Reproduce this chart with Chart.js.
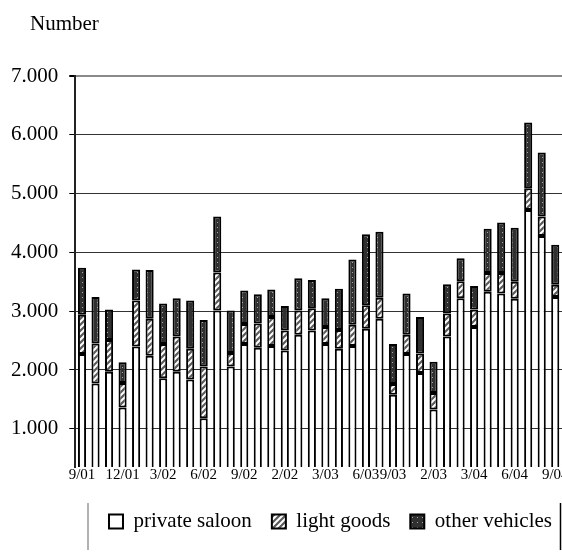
<!DOCTYPE html>
<html lang="en">
<head>
    <meta charset="UTF-8">
    <title>Vehicles by month</title>
    <script src="https://cdn.jsdelivr.net/npm/chart.js"></script>
    <style>
        body {
            margin: 0;
            background-color: #fff;
        }
    </style>
</head>
<body>
    <canvas id="vehChart" width="562" height="553"></canvas>

    <script>
        // one bar per month, 9/01 .. 8/04
        const months = [
            '9/01', '10/01', '11/01', '12/01',
            '1/02', '2/02', '3/02', '4/02', '5/02', '6/02', '7/02', '8/02', '9/02', '10/02', '11/02', '12/02',
            '1/03', '2/03', '3/03', '4/03', '5/03', '6/03', '7/03', '8/03', '9/03', '10/03', '11/03', '12/03',
            '1/04', '2/04', '3/04', '4/04', '5/04', '6/04', '7/04', '8/04'
        ];
        // labels as printed under the axis (only some months shown)
        const tickLabels = [
            '9/01', '', '', '12/01', '', '', '3/02', '', '', '6/02', '', '', '9/02', '', '', '2/02',
            '', '', '3/03', '', '', '6/03', '', '9/03', '', '', '2/03', '', '', '3/04', '', '',
            '6/04', '', '', '9/04'
        ];
        const privateSaloon = [
            2270, 1770, 1970, 1360, 2400, 2240, 1860, 1970, 1840, 1180, 3010, 2060,
            2440, 2380, 2410, 2330, 2600, 2670, 2440, 2360, 2410, 2700, 2870, 1580,
            2270, 1950, 1330, 2570, 3220, 2730, 3330, 3300, 3210, 4720, 4280, 3240
        ];
        const lightGoods = [
            670, 680, 540, 420, 780, 630, 580, 600, 520, 880, 650, 230,
            340, 410, 490, 340, 410, 380, 290, 320, 360, 400, 360, 180,
            330, 330, 280, 390, 290, 300, 320, 350, 290, 370, 330, 210
        ];
        const otherVehicles = [
            800, 790, 520, 350, 530, 830, 690, 650, 820, 790, 950, 720,
            570, 500, 470, 420, 550, 480, 490, 700, 1110, 1210, 1120, 680,
            700, 620, 530, 500, 390, 400, 750, 860, 920, 1120, 1090, 680
        ];
        const yTicks = [1000, 2000, 3000, 4000, 5000, 6000, 7000];

        Chart.defaults.font.family = "'Liberation Serif', 'Times New Roman', serif";
        Chart.defaults.color = '#000';

        function makePattern(size, draw) {
            const c = document.createElement('canvas');
            c.width = size;
            c.height = size;
            const g = c.getContext('2d');
            draw(g, size);
            return g.createPattern(c, 'repeat');
        }

        const hatch = makePattern(6, (g, s) => {
            g.fillStyle = '#5a5a5a';
            g.fillRect(0, 0, s, s);
            g.strokeStyle = '#fff';
            g.lineWidth = 2;
            g.beginPath();
            g.moveTo(-1, s + 1); g.lineTo(s + 1, -1);
            g.moveTo(-1, 1); g.lineTo(1, -1);
            g.moveTo(s - 1, s + 1); g.lineTo(s + 1, s - 1);
            g.stroke();
        });

        const dots = makePattern(5, (g, s) => {
            g.fillStyle = '#303030';
            g.fillRect(0, 0, s, s);
            g.fillStyle = '#a8a8a8';
            g.fillRect(2, 2, 1, 1);
        });

        const fmt = v => String(v).replace(/\B(?=(\d{3})+(?!\d))/g, '.');

        // "Number" caption, legend nudge and the legend frame lines
        const extras = {
            id: 'extras',
            afterLayout(chart) {
                chart.legend.left += 10;
                chart.legend.right += 10;
            },
            afterDraw(chart) {
                const ctx = chart.ctx;
                ctx.save();
                ctx.fillStyle = '#000';
                ctx.font = "21px 'Liberation Serif', 'Times New Roman', serif";
                ctx.textBaseline = 'alphabetic';
                ctx.fillText('Number', 30, 30);

                const top = 503;
                const bottom = chart.height - 3;
                ctx.lineWidth = 1.5;
                ctx.strokeStyle = '#999';
                ctx.beginPath();
                ctx.moveTo(88, top); ctx.lineTo(88, bottom);
                ctx.stroke();
                ctx.strokeStyle = '#000';
                ctx.beginPath();
                ctx.moveTo(chart.width - 1.5, top); ctx.lineTo(chart.width - 1.5, bottom);
                ctx.stroke();
                ctx.restore();
            }
        };

        const barStyle = {
            borderColor: '#000',
            borderWidth: 2,
            borderSkipped: false,
            barPercentage: 0.6,
            categoryPercentage: 1
        };

        new Chart(document.getElementById('vehChart').getContext('2d'), {
            type: 'bar',
            data: {
                labels: months,
                datasets: [
                    { label: 'private saloon', data: privateSaloon, backgroundColor: '#fff', ...barStyle },
                    { label: 'light goods', data: lightGoods, backgroundColor: hatch, ...barStyle },
                    { label: 'other vehicles', data: otherVehicles, backgroundColor: dots, ...barStyle }
                ]
            },
            options: {
                responsive: false,
                animation: false,
                layout: { padding: { top: 76, left: 0, right: 0, bottom: 11 } },
                plugins: {
                    title: { display: false },
                    tooltip: { enabled: false },
                    legend: {
                        position: 'bottom',
                        align: 'end',
                        labels: {
                            boxWidth: 14,
                            boxHeight: 14,
                            padding: 20,
                            color: '#000',
                            font: { size: 21 }
                        }
                    }
                },
                scales: {
                    x: {
                        stacked: true,
                        grid: { display: false, drawTicks: false },
                        border: { display: false },
                        ticks: {
                            autoSkip: false,
                            maxRotation: 0,
                            minRotation: 0,
                            padding: -1,
                            font: { size: 15 },
                            callback: (v, i) => tickLabels[i]
                        },
                        afterFit: s => {
                            s.paddingRight = 0;
                            s.height += 8;
                        }
                    },
                    y: {
                        stacked: true,
                        min: 350,
                        max: 7000,
                        afterBuildTicks: s => { s.ticks = yTicks.map(v => ({ value: v })); },
                        grid: {
                            color: c => c.tick && c.tick.value === 7000 ? '#8a8a8a' : '#333',
                            lineWidth: c => c.tick && c.tick.value === 7000 ? 2 : 1,
                            tickColor: '#000',
                            tickLength: 6
                        },
                        border: { color: '#222', width: 2 },
                        ticks: {
                            padding: 11,
                            font: { size: 21 },
                            callback: v => fmt(v)
                        }
                    }
                }
            },
            plugins: [extras]
        });
    </script>
</body>
</html>
